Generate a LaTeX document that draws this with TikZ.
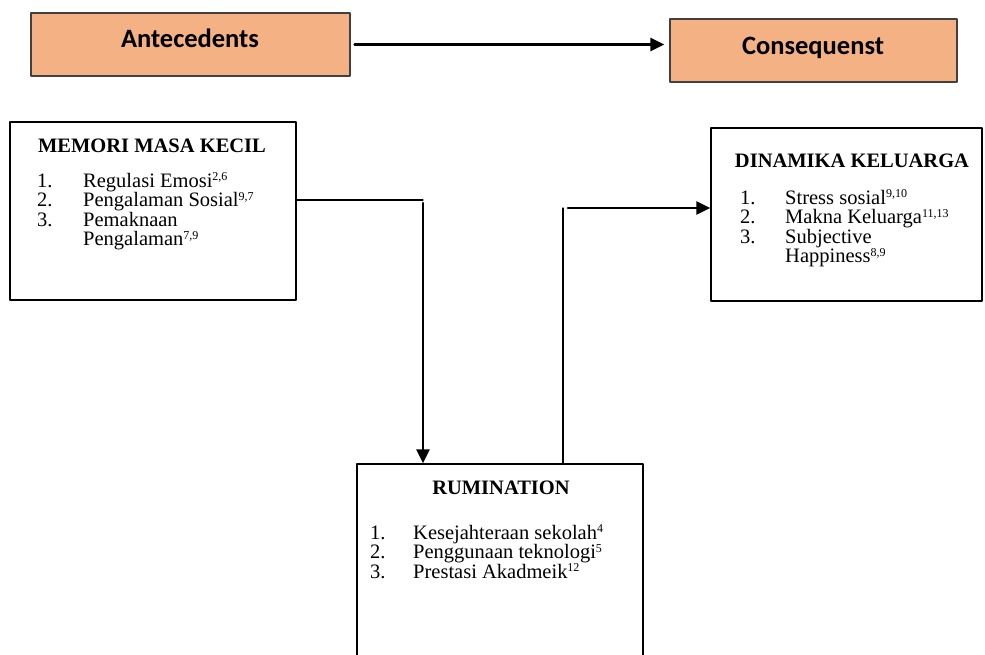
\documentclass[tikz,border=0pt]{standalone}
\usepackage{fontspec}
\setmainfont{Liberation Serif}
\newfontfamily\headfont{Carlito}
\usetikzlibrary{arrows.meta}
\definecolor{peach}{RGB}{244,177,131}
\definecolor{rimgray}{RGB}{64,64,64}
\newcommand{\refnum}[1]{\smash{\raisebox{6.5pt}{\fontsize{12}{12}\selectfont #1}}}

\begin{document}
\begin{tikzpicture}[
    x=1pt, y=-1pt,
    line cap=round,
    line join=round,
    headbox/.style={draw=rimgray, fill=peach, line width=1.3pt, minimum height=63pt, inner sep=0pt},
    listbox/.style={draw=black, line width=1.2pt, inner sep=0pt},
    headtext/.style={font=\headfont\bfseries\fontsize{26.5}{30}\selectfont, inner sep=0pt, anchor=base},
    boxtitle/.style={font=\bfseries\fontsize{20.5}{22}\selectfont, inner sep=0pt, anchor=base},
    listitem/.style={font=\fontsize{20.5}{22}\selectfont, inner sep=0pt, anchor=base west},
    link/.style={line width=1.2pt},
    flow/.style={line width=2.6pt, -{Triangle[length=14pt,width=13pt]}}
]
\useasboundingbox (0,0) rectangle (985,654);
\clip (0,0) rectangle (985,654);

% Header boxes
\node[headbox, minimum width=319pt] (ante) at (190.5,44.5) {};
\node[headtext] (anteT) at (190,47) {Antecedents};
\node[headbox, minimum width=287pt] (cons) at (813.5,50.5) {};
\node[headtext] (consT) at (813,54) {Consequenst};
\draw[flow] ([xshift=4pt]ante.east) -- ([xshift=-5pt]cons.west |- ante.east);

% Memori masa kecil
\node[listbox, minimum width=286pt, minimum height=178pt] (mem) at (153,211) {};
\node[boxtitle] (memT) at (152,152) {MEMORI MASA KECIL};
\node[listitem] (mem1n) at (37,187) {1.};
\node[listitem] (mem1) at (83,187) {Regulasi Emosi\refnum{2,6}};
\node[listitem] (mem2n) at (37,206.5) {2.};
\node[listitem] (mem2) at (83,206.5) {Pengalaman Sosial\refnum{9,7}};
\node[listitem] (mem3n) at (37,226) {3.};
\node[listitem] (mem3) at (83,226) {Pemaknaan};
\node[listitem] (mem3b) at (83,245.5) {Pengalaman\refnum{7,9}};

% Dinamika keluarga
\node[listbox, minimum width=271pt, minimum height=173pt] (din) at (846.5,214.5) {};
\node[boxtitle] (dinT) at (852,167) {DINAMIKA KELUARGA};
\node[listitem] (din1n) at (740,204) {1.};
\node[listitem] (din1) at (785,204) {Stress sosial\refnum{9,10}};
\node[listitem] (din2n) at (740,223.5) {2.};
\node[listitem] (din2) at (785,223.5) {Makna Keluarga\refnum{11,13}};
\node[listitem] (din3n) at (740,243) {3.};
\node[listitem] (din3) at (785,243) {Subjective};
\node[listitem] (din3b) at (785,262.5) {Happiness\refnum{8,9}};

% Rumination
\node[listbox, minimum width=286pt, minimum height=206pt] (rum) at (500,567) {};
\node[boxtitle] (rumT) at (501,494) {RUMINATION};
\node[listitem] (rum1n) at (370,539) {1.};
\node[listitem] (rum1) at (413,539) {Kesejahteraan sekolah\refnum{4}};
\node[listitem] (rum2n) at (370,558.5) {2.};
\node[listitem] (rum2) at (413,558.5) {Penggunaan teknologi\refnum{5}};
\node[listitem] (rum3n) at (370,578) {3.};
\node[listitem] (rum3) at (413,578) {Prestasi Akadmeik\refnum{12}};

% Connectors
\coordinate (drop) at (423,200);
\draw[link] (mem.east |- drop) -- (drop);
\draw[flow] ([yshift=-3pt]drop) -- (drop |- rum.north);
\coordinate (rise) at (563,208);
\draw[link] (rise |- rum.north) -- (rise);
\draw[flow] ([xshift=5pt]rise) -- (din.west |- rise);
\end{tikzpicture}
\end{document}
